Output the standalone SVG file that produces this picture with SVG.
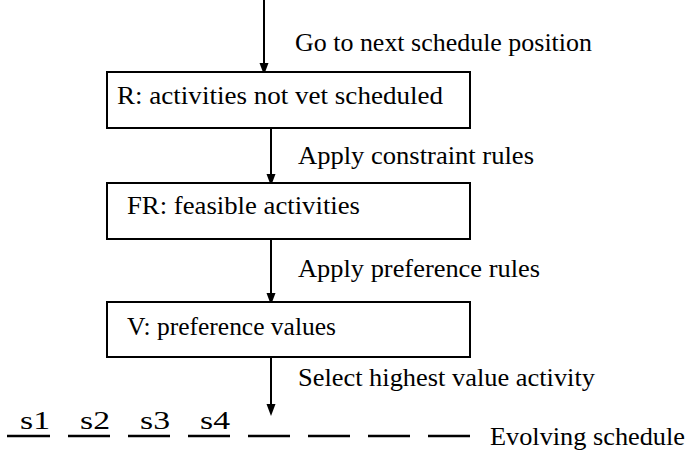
<svg xmlns="http://www.w3.org/2000/svg" width="690" height="453" viewBox="0 0 690 453">
<defs>
<marker id="ah" markerWidth="12" markerHeight="16" refX="12" refY="6" orient="auto" markerUnits="userSpaceOnUse" viewBox="0 0 16 12">
<path d="M0,0 L16,6 L0,12 Z" fill="#000"/>
</marker>
<style>
.box{fill:#fff;stroke:#000;stroke-width:2}
.t{font-family:"Liberation Serif","Times New Roman",serif;font-size:26px;fill:#000}
.c{stroke:#000;stroke-width:2;fill:none}
.u{stroke:#000;stroke-width:2.5}
</style>
</defs>
<rect width="690" height="453" fill="#fff"/>
<g id="connectors">
<line class="c" x1="264" y1="0" x2="264" y2="72" marker-end="url(#ah)"/>
<line class="c" x1="271" y1="128" x2="271" y2="183" marker-end="url(#ah)"/>
<line class="c" x1="271" y1="239" x2="271" y2="302" marker-end="url(#ah)"/>
<line class="c" x1="271" y1="357" x2="271" y2="413" marker-end="url(#ah)"/>
</g>
<g id="label-go"><text class="t" x="295" y="51" textLength="297" lengthAdjust="spacingAndGlyphs">Go to next schedule position</text></g>
<g id="node-R">
<rect class="box" x="107" y="72" width="363" height="56"/>
<text class="t" x="117" y="104" textLength="326" lengthAdjust="spacingAndGlyphs">R: activities not vet scheduled</text>
</g>
<g id="label-constraint"><text class="t" x="298" y="164" textLength="236" lengthAdjust="spacingAndGlyphs">Apply constraint rules</text></g>
<g id="node-FR">
<rect class="box" x="107" y="183" width="363" height="56"/>
<text class="t" x="127" y="214" textLength="233" lengthAdjust="spacingAndGlyphs">FR: feasible activities</text>
</g>
<g id="label-preference"><text class="t" x="298" y="277" textLength="242" lengthAdjust="spacingAndGlyphs">Apply preference rules</text></g>
<g id="node-V">
<rect class="box" x="107" y="302" width="363" height="55"/>
<text class="t" x="127" y="335" textLength="209" lengthAdjust="spacingAndGlyphs">V: preference values</text>
</g>
<g id="label-select"><text class="t" x="298" y="386" textLength="297" lengthAdjust="spacingAndGlyphs">Select highest value activity</text></g>
<g id="schedule">
<text class="t" x="20" y="429" textLength="30" lengthAdjust="spacingAndGlyphs">s1</text>
<text class="t" x="80" y="429" textLength="30" lengthAdjust="spacingAndGlyphs">s2</text>
<text class="t" x="140" y="429" textLength="30" lengthAdjust="spacingAndGlyphs">s3</text>
<text class="t" x="200" y="429" textLength="30" lengthAdjust="spacingAndGlyphs">s4</text>
<line class="u" x1="7" y1="436" x2="50" y2="436"/>
<line class="u" x1="68" y1="436" x2="110" y2="436"/>
<line class="u" x1="128" y1="436" x2="170" y2="436"/>
<line class="u" x1="188" y1="436" x2="230" y2="436"/>
<line class="u" x1="248" y1="436" x2="290" y2="436"/>
<line class="u" x1="308" y1="436" x2="350" y2="436"/>
<line class="u" x1="368" y1="436" x2="410" y2="436"/>
<line class="u" x1="428" y1="436" x2="470" y2="436"/>
<text class="t" x="490" y="445" textLength="195" lengthAdjust="spacingAndGlyphs">Evolving schedule</text>
</g>
</svg>
